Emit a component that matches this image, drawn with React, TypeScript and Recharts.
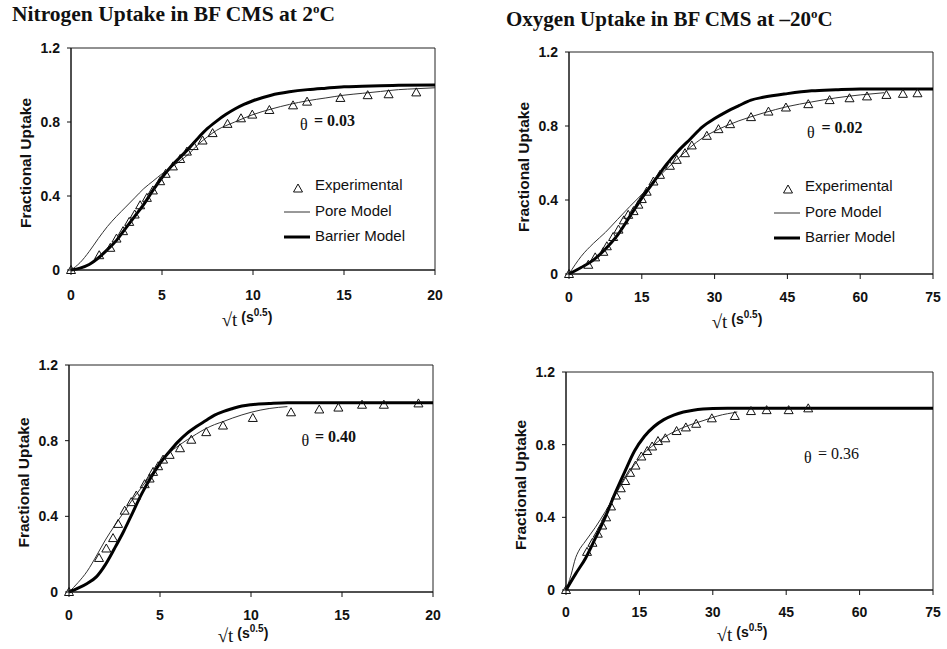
import React from "react";
import { ComposedChart, Line, Scatter, XAxis, YAxis, ReferenceArea } from "recharts";

// N2 uptake at 2°C, theta = 0.03
const n2LowExpX = [0, 1.55, 2.16, 2.5, 2.86, 3.2, 3.5, 3.8, 4.17, 4.5, 4.9, 5.2, 5.6, 6.0, 6.37, 6.74, 7.23, 7.78, 8.6, 9.34, 9.96, 10.9, 12.2, 12.97, 14.8, 16.3, 17.45, 18.97];
const n2LowExpY = [0, 0.08, 0.12, 0.17, 0.21, 0.26, 0.3, 0.35, 0.39, 0.43, 0.48, 0.52, 0.56, 0.6, 0.64, 0.67, 0.7, 0.74, 0.79, 0.82, 0.84, 0.865, 0.89, 0.91, 0.93, 0.945, 0.95, 0.96];
const n2LowPoreX = [0, 0.5, 1, 1.5, 2, 2.5, 3, 3.5, 4, 4.5, 5, 5.5, 6, 6.5, 7, 7.5, 8, 9, 10, 11, 12, 13, 14, 15, 16, 17, 18, 19, 20];
const n2LowPoreY = [0, 0.04, 0.1, 0.17, 0.235, 0.29, 0.34, 0.39, 0.44, 0.48, 0.52, 0.555, 0.59, 0.63, 0.68, 0.72, 0.755, 0.8, 0.84, 0.87, 0.895, 0.915, 0.93, 0.945, 0.955, 0.965, 0.975, 0.98, 0.985];
const n2LowBarX = [0, 0.5, 1, 1.5, 2, 2.5, 3, 3.5, 4, 4.5, 5, 5.5, 6, 6.5, 7, 7.5, 8, 8.5, 9, 9.5, 10, 11, 12, 13, 14, 15, 16, 17, 18, 20];
const n2LowBarY = [0, 0.01, 0.03, 0.065, 0.11, 0.16, 0.225, 0.29, 0.355, 0.43, 0.5, 0.56, 0.61, 0.66, 0.715, 0.765, 0.805, 0.84, 0.87, 0.895, 0.915, 0.945, 0.963, 0.975, 0.983, 0.99, 0.993, 0.996, 0.998, 1.0];

// O2 uptake at -20°C, theta = 0.02
const o2LowExpX = [0, 3.98, 5.4, 7.07, 7.8, 9.1, 10.2, 11.3, 12.2, 13.3, 14.3, 15.0, 16.0, 17.4, 18.75, 20.8, 22.2, 23.9, 25.3, 28.4, 30.8, 33.2, 37.5, 41.1, 44.7, 49.3, 53.7, 57.8, 61.4, 65.4, 68.8, 71.8];
const o2LowExpY = [0, 0.05, 0.09, 0.12, 0.15, 0.2, 0.24, 0.29, 0.32, 0.34, 0.375, 0.405, 0.445, 0.5, 0.536, 0.585, 0.617, 0.653, 0.695, 0.747, 0.783, 0.81, 0.848, 0.878, 0.9, 0.918, 0.94, 0.95, 0.96, 0.968, 0.974, 0.977];
const o2LowPoreX = [0, 2.5, 5, 7.5, 10, 12.5, 15, 17.5, 20, 22.5, 25, 27.5, 30, 32.5, 35, 37.5, 40, 45, 50, 55, 60, 65];
const o2LowPoreY = [0, 0.095, 0.165, 0.225, 0.295, 0.364, 0.43, 0.5, 0.565, 0.625, 0.685, 0.735, 0.772, 0.802, 0.828, 0.85, 0.87, 0.905, 0.93, 0.952, 0.968, 0.98];
const o2LowBarX = [0, 2.5, 5, 7.5, 10, 12.5, 15, 17.5, 20, 22.5, 25, 27.5, 30, 32.5, 35, 37.5, 40, 45, 50, 55, 60, 75];
const o2LowBarY = [0, 0.035, 0.075, 0.135, 0.21, 0.31, 0.41, 0.5, 0.59, 0.665, 0.73, 0.795, 0.84, 0.878, 0.91, 0.94, 0.955, 0.975, 0.99, 0.996, 1.0, 1.0];

// N2 uptake at 2°C, theta = 0.40
const n2HighExpX = [0, 1.65, 2.05, 2.42, 2.7, 3.06, 3.42, 3.7, 4.16, 4.43, 4.62, 4.9, 5.17, 5.53, 6.1, 6.72, 7.54, 8.46, 10.1, 12.2, 13.75, 14.8, 16.1, 17.3, 19.2];
const n2HighExpY = [0, 0.18, 0.23, 0.285, 0.36, 0.43, 0.475, 0.51, 0.57, 0.6, 0.635, 0.665, 0.7, 0.725, 0.76, 0.805, 0.845, 0.88, 0.92, 0.95, 0.965, 0.975, 0.99, 0.99, 0.997];
const n2HighPoreX = [0, 0.5, 1, 1.5, 2, 2.5, 3, 3.5, 4, 4.5, 5, 5.5, 6, 6.5, 7, 7.5, 8, 8.5, 9, 10, 11, 12];
const n2HighPoreY = [0, 0.05, 0.11, 0.19, 0.275, 0.35, 0.42, 0.49, 0.555, 0.62, 0.685, 0.735, 0.772, 0.805, 0.835, 0.863, 0.885, 0.902, 0.92, 0.95, 0.97, 0.98];
const n2HighBarX = [0, 0.5, 1, 1.5, 2, 2.5, 3, 3.5, 4, 4.5, 5, 5.5, 6, 6.5, 7, 7.5, 8, 8.5, 9, 9.5, 10, 11, 12, 20];
const n2HighBarY = [0, 0.02, 0.045, 0.08, 0.145, 0.23, 0.32, 0.42, 0.52, 0.605, 0.68, 0.74, 0.795, 0.84, 0.875, 0.905, 0.935, 0.955, 0.97, 0.983, 0.99, 0.996, 1.0, 1.0];

// O2 uptake at -20°C, theta = 0.36
const o2HighExpX = [0, 4.3, 5.4, 6.5, 7.4, 8.2, 9.2, 10.2, 11.2, 12.1, 13.1, 14.2, 15.4, 16.6, 17.6, 18.8, 20.3, 22.6, 24.5, 26.6, 29.8, 34.5, 37.8, 41.0, 45.5, 49.5];
const o2HighExpY = [0, 0.21, 0.26, 0.31, 0.355, 0.4, 0.46, 0.52, 0.56, 0.6, 0.645, 0.685, 0.735, 0.765, 0.79, 0.82, 0.835, 0.875, 0.895, 0.915, 0.945, 0.958, 0.985, 0.99, 0.99, 1.0];
const o2HighPoreX = [0, 1, 2, 2.5, 4, 6, 8, 10, 12, 14, 16, 18, 20, 22, 24, 26, 28, 30, 32, 34, 35];
const o2HighPoreY = [0, 0.08, 0.18, 0.21, 0.27, 0.345, 0.43, 0.52, 0.61, 0.69, 0.755, 0.8, 0.84, 0.87, 0.895, 0.915, 0.932, 0.95, 0.965, 0.975, 0.98];
const o2HighBarX = [0, 2, 4, 6, 8, 10, 12, 14, 16, 18, 20, 22, 24, 26, 28, 30, 33, 75];
const o2HighBarY = [0, 0.09, 0.175, 0.285, 0.4, 0.53, 0.65, 0.765, 0.845, 0.9, 0.938, 0.963, 0.98, 0.99, 0.996, 0.999, 1.0, 1.0];

const yTicks = [0, 0.4, 0.8, 1.2];
const xTicksShort = [0, 5, 10, 15, 20];
const xTicksLong = [0, 15, 30, 45, 60, 75];
const thetaLabels = ["= 0.03", "= 0.02", "= 0.40", "= 0.36"];
const titles = ["Nitrogen Uptake in BF CMS at 2", "Oxygen Uptake in BF CMS at \u201320"];
const legendNames = ["Experimental", "Pore Model", "Barrier Model"];

const pts = (xs: number[], ys: number[]) => xs.map((x, i) => ({ x, y: ys[i] }));

const SANS = "'Liberation Sans', Arial, sans-serif";
const SERIF = "'Liberation Serif', 'Times New Roman', serif";
const AXIS_W = 71;
const TOP = 48;
const RIGHT = 25;
const BOTTOM = 60;

const panels = [
  { left: 71, top: 48, w: 364, h: 222, xMax: 20, xTicks: xTicksShort, tickM: 15, exp: pts(n2LowExpX, n2LowExpY), pore: pts(n2LowPoreX, n2LowPoreY), bar: pts(n2LowBarX, n2LowBarY),
    xl: 247, xb: 322, theta: { x: 300, y: 130, tx: 314, ty: 125.7, bold: true }, legend: { x: 284, y: 185 } },
  { left: 569, top: 52, w: 364, h: 222, xMax: 75, xTicks: xTicksLong, tickM: 13, exp: pts(o2LowExpX, o2LowExpY), pore: pts(o2LowPoreX, o2LowPoreY), bar: pts(o2LowBarX, o2LowBarY),
    xl: 737, xb: 324, theta: { x: 807, y: 138, tx: 821.5, ty: 133, bold: true }, legend: { x: 774, y: 186 } },
  { left: 69, top: 365, w: 364, h: 227, xMax: 20, xTicks: xTicksShort, tickM: 13, exp: pts(n2HighExpX, n2HighExpY), pore: pts(n2HighPoreX, n2HighPoreY), bar: pts(n2HighBarX, n2HighBarY),
    xl: 243, xb: 638, theta: { x: 301.5, y: 445.5, tx: 315, ty: 441.5, bold: true }, legend: null },
  { left: 566, top: 372, w: 367, h: 218, xMax: 75, xTicks: xTicksLong, tickM: 12, exp: pts(o2HighExpX, o2HighExpY), pore: pts(o2HighPoreX, o2HighPoreY), bar: pts(o2HighBarX, o2HighBarY),
    xl: 742, xb: 637, theta: { x: 804, y: 463, tx: 818, ty: 459, bold: false }, legend: null },
];

function Triangle(props: any) {
  const { cx, cy } = props;
  if (cx == null || cy == null) return null;
  return (
    <path
      d={`M${cx},${cy - 4.5}L${cx + 4.5},${cy + 3.5}L${cx - 4.5},${cy + 3.5}Z`}
      fill="none"
      stroke="#111"
      strokeWidth={1}
    />
  );
}

const tickStyle = { fontSize: 14, fontWeight: "bold", fill: "#111", fontFamily: SANS };

function Panel({ p }: { p: (typeof panels)[number] }) {
  return (
    <div style={{ position: "absolute", left: p.left - AXIS_W, top: p.top - TOP }}>
      <ComposedChart
        width={p.w + AXIS_W + RIGHT}
        height={p.h + TOP + BOTTOM}
        margin={{ top: TOP, right: RIGHT, bottom: 0, left: 0 }}
      >
        <XAxis
          type="number"
          dataKey="x"
          domain={[0, p.xMax]}
          ticks={p.xTicks}
          height={BOTTOM}
          axisLine={{ stroke: "#111" }}
          tickLine={{ stroke: "#111" }}
          tickSize={5}
          tickMargin={p.tickM}
          tick={tickStyle}
        />
        <YAxis
          type="number"
          dataKey="y"
          domain={[0, 1.2]}
          ticks={yTicks}
          width={AXIS_W}
          axisLine={{ stroke: "#111" }}
          tickLine={{ stroke: "#111" }}
          tickSize={4}
          tickMargin={7}
          tick={tickStyle}
        />
        <ReferenceArea x1={0} x2={p.xMax} y1={0} y2={1.2} fill="none" stroke="#222" strokeWidth={1} />
        <Line data={p.pore} dataKey="y" type="monotone" stroke="#333" strokeWidth={1} dot={false} isAnimationActive={false} />
        <Line data={p.bar} dataKey="y" type="monotone" stroke="#000" strokeWidth={3} dot={false} isAnimationActive={false} />
        <Scatter data={p.exp} dataKey="y" shape={Triangle} isAnimationActive={false} />
      </ComposedChart>
    </div>
  );
}

function Overlay() {
  return (
    <svg width={947} height={649} style={{ position: "absolute", left: 0, top: 0, pointerEvents: "none" }}>
      <text x={12} y={21} fontFamily={SERIF} fontWeight="bold" fontSize={21.5} fill="#111">
        {titles[0]}
        <tspan dy={-8} fontSize={13}>o</tspan>
        <tspan dy={8}>C</tspan>
      </text>
      <text x={506} y={26} fontFamily={SERIF} fontWeight="bold" fontSize={21} fill="#111">
        {titles[1]}
        <tspan dy={-8} fontSize={13}>o</tspan>
        <tspan dy={8}>C</tspan>
      </text>
      {panels.map((p, i) => {
        const cx = p.left - 46;
        const cy = p.top + p.h / 2 + 4;
        return (
          <g key={i}>
            <text
              x={cx}
              y={cy}
              transform={`rotate(-90 ${cx} ${cy})`}
              textAnchor="middle"
              dominantBaseline="central"
              fontFamily={SANS}
              fontWeight="bold"
              fontSize={15.5}
              fill="#111"
            >
              Fractional Uptake
            </text>
            <text x={p.xl} y={p.xb} textAnchor="middle" fontFamily={SANS} fontWeight="bold" fontSize={14} fill="#111">
              <tspan fontFamily={SERIF} fontWeight="normal" fontSize={19} dy={4}>{"\u221At"}</tspan>
              <tspan dy={-4}> (s</tspan>
              <tspan dy={-6} fontSize={10}>0.5</tspan>
              <tspan dy={6}>)</tspan>
            </text>
            <text x={p.theta.x} y={p.theta.y} fontFamily={SERIF} fontSize={16} fill="#111">{"\u03B8"}</text>
            <text
              x={p.theta.tx}
              y={p.theta.ty}
              fontFamily={SERIF}
              fontWeight={p.theta.bold ? "bold" : "normal"}
              fontSize={16}
              fill="#111"
            >
              {thetaLabels[i]}
            </text>
            {p.legend && (
              <g>
                <path
                  d={`M${p.legend.x + 14},${p.legend.y - 1}L${p.legend.x + 18.5},${p.legend.y + 7}L${p.legend.x + 9.5},${p.legend.y + 7}Z`}
                  fill="none"
                  stroke="#111"
                />
                <line x1={p.legend.x} x2={p.legend.x + 26} y1={p.legend.y + 27} y2={p.legend.y + 27} stroke="#333" strokeWidth={1} />
                <line x1={p.legend.x} x2={p.legend.x + 26} y1={p.legend.y + 52} y2={p.legend.y + 52} stroke="#000" strokeWidth={3} />
                {legendNames.map((n, k) => (
                  <text key={n} x={p.legend.x + 31} y={p.legend.y + 5 + k * 25.5} fontFamily={SANS} fontSize={15} fill="#111">
                    {n}
                  </text>
                ))}
              </g>
            )}
          </g>
        );
      })}
    </svg>
  );
}

export default function App() {
  return (
    <div style={{ position: "absolute", left: 0, top: 0, width: 947, height: 649, background: "#fff", overflow: "hidden" }}>
      {panels.map((p, i) => (
        <Panel key={i} p={p} />
      ))}
      <Overlay />
    </div>
  );
}
